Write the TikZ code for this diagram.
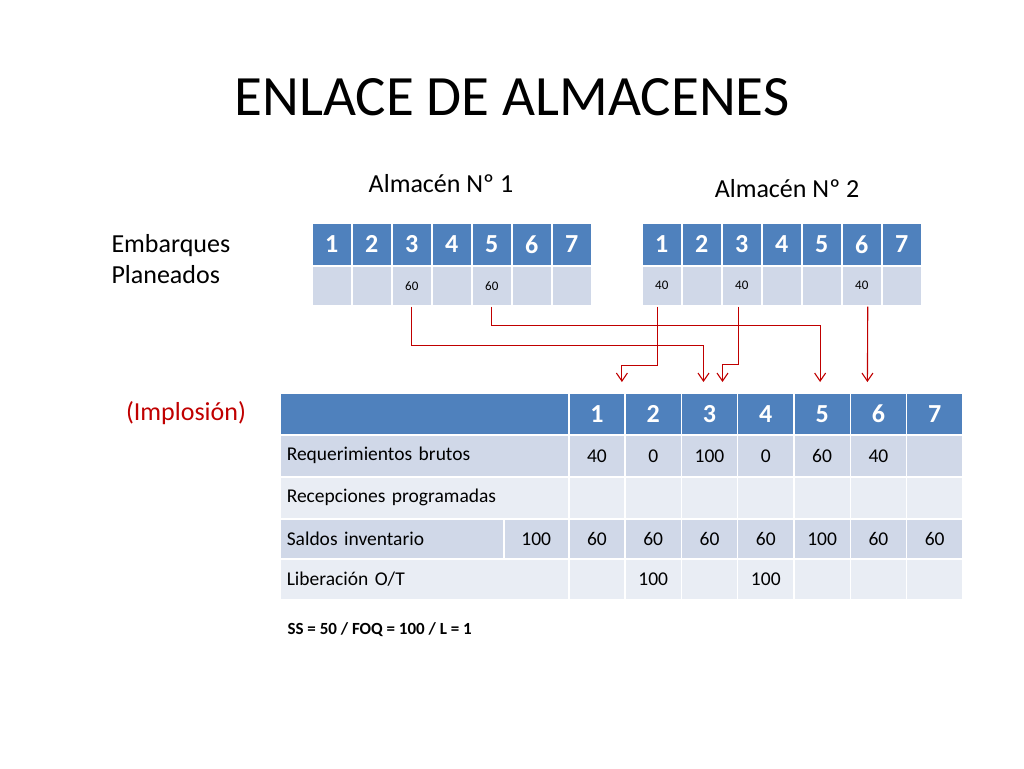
\documentclass[tikz,border=0pt]{standalone}
\usepackage{fontspec}
\setmainfont[Numbers=Lining]{Carlito}
\usetikzlibrary{positioning, calc, arrows.meta}
\definecolor{headblue}{HTML}{4F81BD}
\definecolor{rowdark}{HTML}{D0D8E8}
\definecolor{rowlight}{HTML}{E9EDF4}
\definecolor{linkred}{HTML}{C00000}

\begin{document}
\begin{tikzpicture} [
    x=1pt, y=-1pt,
    cell/.style={rectangle, draw=white, line width=1.5pt, inner sep=0pt, anchor=north west},
    head/.style={cell, fill=headblue, text=white, font=\fontsize{26}{28}\selectfont\bfseries},
    small/.style={cell, fill=rowdark, font=\fontsize{13}{15}\selectfont},
    body/.style={cell, font=\fontsize{19.5}{22}\selectfont},
    label/.style={font=\fontsize{26}{31}\selectfont, align=left},
    arrow/.style={-{Straight Barb[length=8pt, width=11pt]}, linkred, line width=1.1pt}
]
\useasboundingbox (0,0) rectangle (1024,768);

% Title and labels
\node[font=\fontsize{57}{62}\selectfont] (title) at (512,97) {ENLACE DE ALMACENES};
\node[label] (alm1) at (441,184) {Almacén Nº 1};
\node[label] (alm2) at (787,189) {Almacén Nº 2};
\node[label, anchor=west] (emb) at (108,259) {Embarques\\Planeados};
\node[label, text=linkred] (impl) at (186,413) {(Implosión)};
\node[font=\fontsize{17}{20}\selectfont\bfseries, anchor=west] (params) at (284,630) {SS = 50 / FOQ = 100 / L = 1};

% Warehouse 1 table
\foreach \i/\v in {1/,2/,3/60,4/,5/60,6/,7/} {
    \node[head, minimum width=40pt, minimum height=43pt] (a\i) at ({311+40*(\i-1)},222) {\i};
    \node[small, minimum width=40pt, minimum height=40pt] (av\i) at ({311+40*(\i-1)},265) {\v};
}
% Warehouse 2 table
\foreach \i/\v in {1/40,2/,3/40,4/,5/,6/40,7/} {
    \node[head, minimum width=40pt, minimum height=43pt] (b\i) at ({641+40*(\i-1)},222) {\i};
    \node[small, minimum width=40pt, minimum height=40pt] (bv\i) at ({641+40*(\i-1)},265) {\v};
}

% Implosion table
\node[head, minimum width=289pt, minimum height=42pt] (hlabel) at (279,392) {};
\foreach \i in {1,...,7}
    \node[head, minimum width=56.3pt, minimum height=42pt] (h\i) at ({568+56.3*(\i-1)},392) {\i};

\node[body, fill=rowdark, minimum width=289pt, minimum height=42pt, text width=275pt, align=left] (r1) at (279,434) {Requerimientos brutos};
\foreach \i/\v in {1/40,2/0,3/100,4/0,5/60,6/40,7/}
    \node[body, fill=rowdark, minimum width=56.3pt, minimum height=42pt] (r1c\i) at ({568+56.3*(\i-1)},434) {\v};

\node[body, fill=rowlight, minimum width=289pt, minimum height=42pt, text width=275pt, align=left] (r2) at (279,476) {Recepciones programadas};
\foreach \i in {1,...,7}
    \node[body, fill=rowlight, minimum width=56.3pt, minimum height=42pt] (r2c\i) at ({568+56.3*(\i-1)},476) {};

\node[body, fill=rowdark, minimum width=224pt, minimum height=40pt, text width=210pt, align=left] (r3) at (279,518) {Saldos inventario};
\node[body, fill=rowdark, minimum width=65pt, minimum height=40pt] (r3c0) at (503,518) {100};
\foreach \i/\v in {1/60,2/60,3/60,4/60,5/100,6/60,7/60}
    \node[body, fill=rowdark, minimum width=56.3pt, minimum height=40pt] (r3c\i) at ({568+56.3*(\i-1)},518) {\v};

\node[body, fill=rowlight, minimum width=289pt, minimum height=41pt, text width=275pt, align=left] (r4) at (279,558) {Liberación O/T};
\foreach \i/\v in {1/,2/100,3/,4/100,5/,6/,7/}
    \node[body, fill=rowlight, minimum width=56.3pt, minimum height=41pt] (r4c\i) at ({568+56.3*(\i-1)},558) {\v};

% Links
\coordinate (t1) at ($(h1.north)+(25,-10)$);
\coordinate (t3a) at ($(h3.north)+(-6,-10)$);
\coordinate (t3b) at ($(h3.north)+(13,-10)$);
\coordinate (t5) at ($(h5.north)+(-2,-10)$);
\coordinate (t6) at ($(h6.north)+(-11,-10)$);
\draw[arrow] (av3.south) |- ++(0,39) -| (t3a);
\draw[arrow] (av5.south) |- ++(0,19) -| (t5);
\draw[arrow] ($(bv1.south)+(-4,0)$) |- ++(0,59) -| (t1);
\draw[arrow] ($(bv3.south)+(-3,0)$) |- ++(0,58) -| (t3b);
\draw[arrow] ($(bv6.south)+(6,0)$) -- (t6);

\end{tikzpicture}
\end{document}
